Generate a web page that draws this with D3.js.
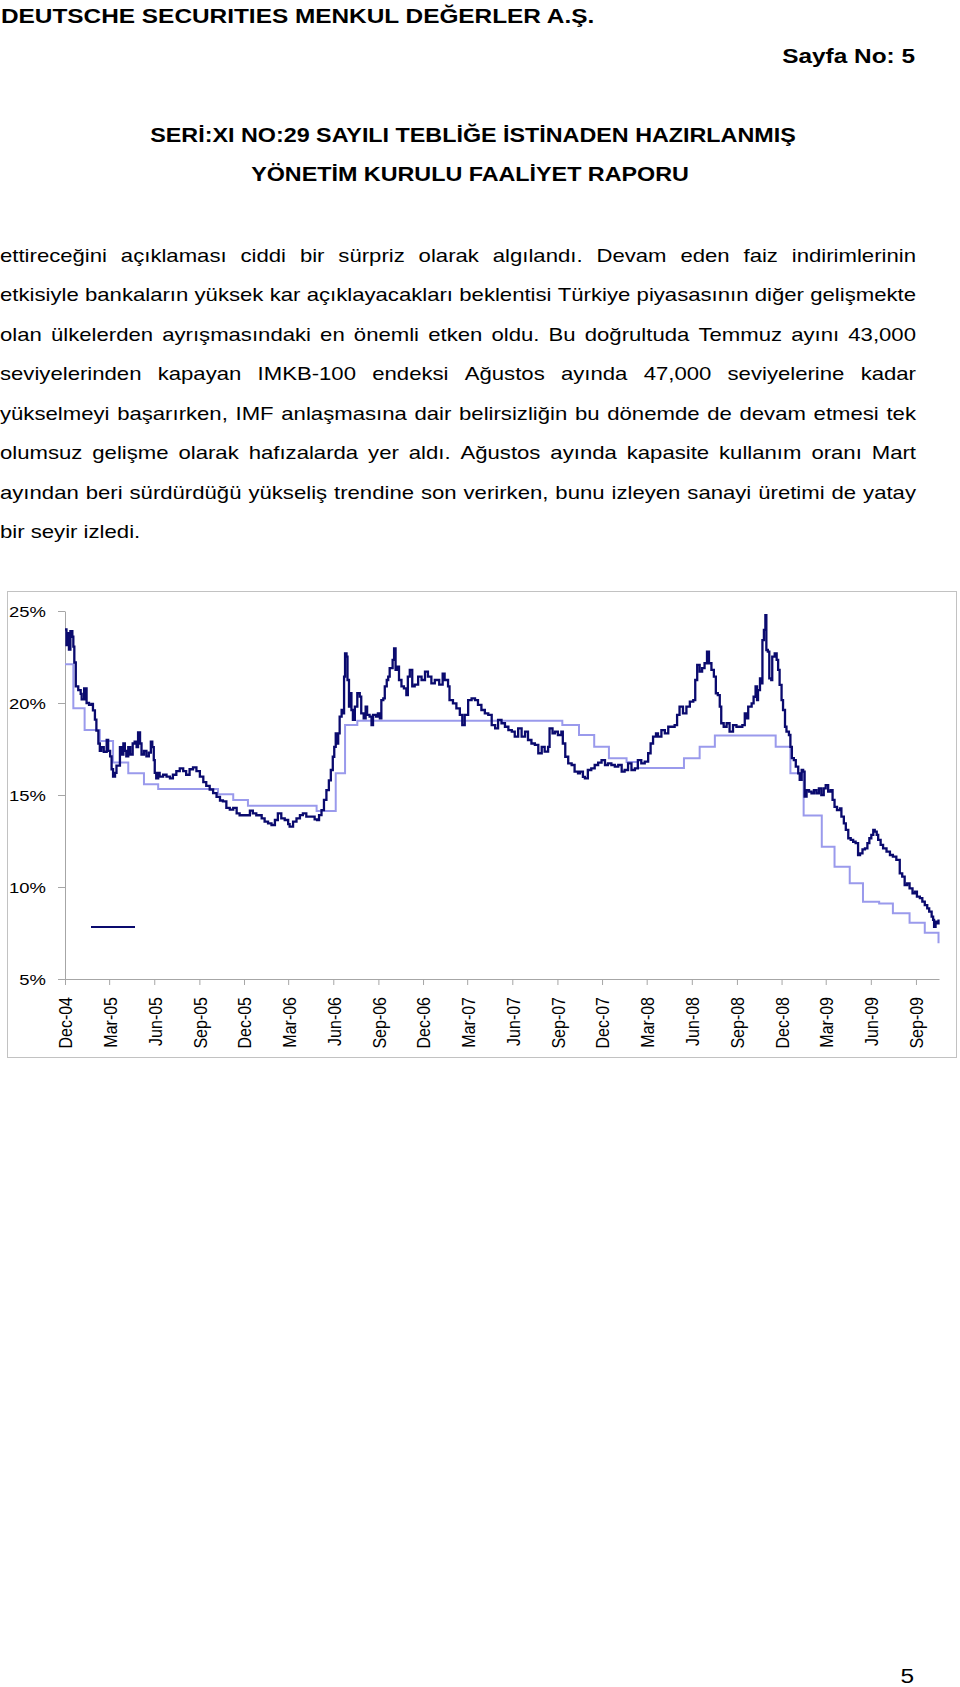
<!DOCTYPE html>
<html><head><meta charset="utf-8">
<script src="https://cdn.jsdelivr.net/npm/d3@7"></script>
<style>
html,body{margin:0;padding:0;background:#fff;}
body{width:960px;height:1687px;overflow:hidden;}
svg text{font-family:"Liberation Sans",Arial,Helvetica,sans-serif;fill:#000;}
</style></head>
<body>
<script>
// ---------- DATA ----------
const headerTitle = "DEUTSCHE SECURITIES MENKUL DEĞERLER A.Ş.";
const pageLabel = "Sayfa No: 5";
const reportTitle = ["SERİ:XI NO:29 SAYILI TEBLİĞE İSTİNADEN HAZIRLANMIŞ", "YÖNETİM KURULU FAALİYET RAPORU"];
const paragraphLines = [
  "ettireceğini açıklaması ciddi bir sürpriz olarak algılandı. Devam eden faiz indirimlerinin",
  "etkisiyle bankaların yüksek kar açıklayacakları beklentisi Türkiye piyasasının diğer gelişmekte",
  "olan ülkelerden ayrışmasındaki en önemli etken oldu. Bu doğrultuda Temmuz ayını 43,000",
  "seviyelerinden kapayan IMKB-100 endeksi Ağustos ayında 47,000 seviyelerine kadar",
  "yükselmeyi başarırken, IMF anlaşmasına dair belirsizliğin bu dönemde de devam etmesi tek",
  "olumsuz gelişme olarak hafızalarda yer aldı. Ağustos ayında kapasite kullanım oranı Mart",
  "ayından beri sürdürdüğü yükseliş trendine son verirken, bunu izleyen sanayi üretimi de yatay",
  "bir seyir izledi."
];
const pageNumber = "5";

const xTickLabels = ["Dec-04","Mar-05","Jun-05","Sep-05","Dec-05","Mar-06","Jun-06","Sep-06","Dec-06",
  "Mar-07","Jun-07","Sep-07","Dec-07","Mar-08","Jun-08","Sep-08","Dec-08","Mar-09","Jun-09","Sep-09"];
const yTickValues = [5, 10, 15, 20, 25];
const xDomain = ["2004-12-01", "2009-10-18"];
const yDomain = [5, 25];

// benchmark bond yield (%), daily series
const benchmarkYield = [
["2004-12-01",24.0],["2004-12-04",23.15],["2004-12-07",23.8],["2004-12-09",22.9],["2004-12-12",23.9],["2004-12-16",23.6],["2004-12-18",23.06],["2004-12-20",22.2],["2004-12-23",20.9],["2004-12-28",20.7],
["2005-01-02",20.5],["2005-01-04",20.2],["2005-01-09",20.8],["2005-01-10",20.2],["2005-01-12",20.8],["2005-01-14",20.0],["2005-01-19",19.9],["2005-01-24",19.95],["2005-01-27",19.6],["2005-01-31",19.1],
["2005-02-03",18.5],["2005-02-07",17.8],["2005-02-10",17.4],["2005-02-13",17.6],["2005-02-18",17.35],["2005-02-24",18.0],["2005-02-27",17.4],["2005-03-03",17.1],["2005-03-06",16.4],["2005-03-09",16.0],
["2005-03-13",16.2],["2005-03-16",16.6],["2005-03-19",16.6],["2005-03-23",17.6],["2005-03-26",17.2],["2005-03-30",17.8],["2005-04-02",17.4],["2005-04-05",17.1],["2005-04-09",17.6],["2005-04-13",17.2],
["2005-04-18",17.8],["2005-04-22",17.9],["2005-04-26",17.6],["2005-04-29",18.4],["2005-05-03",17.8],["2005-05-06",17.2],["2005-05-11",17.4],["2005-05-16",17.1],["2005-05-21",17.3],["2005-05-25",17.9],
["2005-05-28",17.6],["2005-05-31",16.9],["2005-06-02",16.2],["2005-06-05",15.9],["2005-06-09",16.2],["2005-06-12",16.0],["2005-06-19",16.1],["2005-06-26",16.0],["2005-07-03",15.9],["2005-07-09",16.1],
["2005-07-16",16.3],["2005-07-23",16.45],["2005-07-30",16.3],["2005-08-05",16.1],["2005-08-12",16.4],["2005-08-19",16.5],["2005-08-26",16.3],["2005-09-02",16.0],["2005-09-09",15.7],["2005-09-15",15.5],
["2005-09-22",15.3],["2005-09-29",15.1],["2005-10-06",14.9],["2005-10-13",14.7],["2005-10-19",14.65],["2005-10-26",14.3],["2005-11-02",14.2],["2005-11-09",14.3],["2005-11-16",14.0],["2005-11-22",13.9],
["2005-12-03",13.9],["2005-12-13",14.15],["2005-12-19",14.0],["2005-12-26",13.9],["2006-01-06",13.73],["2006-01-12",13.55],["2006-01-19",13.46],["2006-01-26",13.37],["2006-02-02",13.64],["2006-02-08",14.0],
["2006-02-15",13.73],["2006-02-22",13.64],["2006-03-01",13.42],["2006-03-04",13.28],["2006-03-11",13.55],["2006-03-18",13.73],["2006-03-25",13.91],["2006-03-31",14.0],["2006-04-07",13.82],["2006-04-14",13.82],
["2006-04-24",13.68],["2006-04-29",13.64],["2006-05-03",13.91],["2006-05-08",14.18],["2006-05-13",14.73],["2006-05-18",15.27],["2006-05-23",15.8],["2006-05-27",16.36],["2006-05-31",17.08],["2006-06-03",17.62],
["2006-06-06",18.35],["2006-06-09",17.8],["2006-06-11",18.35],["2006-06-14",19.26],["2006-06-18",19.62],["2006-06-21",19.44],["2006-06-23",21.43],["2006-06-25",22.7],["2006-06-28",22.52],["2006-06-30",21.25],
["2006-07-03",19.8],["2006-07-05",20.53],["2006-07-08",19.62],["2006-07-11",19.08],["2006-07-15",19.8],["2006-07-20",20.53],["2006-07-25",20.35],["2006-07-28",19.44],["2006-08-02",19.17],["2006-08-06",19.8],
["2006-08-09",19.35],["2006-08-14",19.26],["2006-08-18",18.8],["2006-08-21",19.35],["2006-08-27",19.26],["2006-08-31",19.44],["2006-09-04",19.17],["2006-09-07",20.16],["2006-09-11",20.25],["2006-09-14",20.9],
["2006-09-18",21.25],["2006-09-21",21.43],["2006-09-24",21.89],["2006-09-30",22.34],["2006-10-03",22.97],["2006-10-06",21.8],["2006-10-09",21.98],["2006-10-13",21.25],["2006-10-18",20.9],["2006-10-23",20.8],
["2006-10-28",20.43],["2006-10-31",21.43],["2006-11-04",21.8],["2006-11-09",20.9],["2006-11-14",21.0],["2006-11-21",21.43],["2006-11-28",21.25],["2006-12-05",21.7],["2006-12-11",21.43],["2006-12-18",21.07],
["2006-12-25",21.25],["2007-01-03",21.0],["2007-01-10",21.6],["2007-01-14",21.25],["2007-01-21",20.9],["2007-01-24",20.16],["2007-01-31",19.98],["2007-02-07",19.71],["2007-02-14",19.35],["2007-02-19",18.8],
["2007-02-24",19.35],["2007-03-03",20.16],["2007-03-10",20.25],["2007-03-17",20.16],["2007-03-23",19.9],["2007-03-30",19.62],["2007-04-06",19.44],["2007-04-13",19.35],["2007-04-20",18.8],["2007-04-27",18.62],
["2007-05-03",19.08],["2007-05-10",18.9],["2007-05-17",18.71],["2007-05-24",18.53],["2007-05-31",18.44],["2007-06-06",18.17],["2007-06-13",18.62],["2007-06-20",18.17],["2007-06-27",18.44],["2007-07-03",17.99],
["2007-07-10",17.8],["2007-07-17",17.72],["2007-07-24",17.27],["2007-07-31",17.62],["2007-08-06",17.36],["2007-08-13",17.62],["2007-08-16",18.62],["2007-08-22",18.35],["2007-08-27",18.44],["2007-09-02",18.26],
["2007-09-09",18.44],["2007-09-12",17.8],["2007-09-17",17.08],["2007-09-23",16.72],["2007-09-30",16.63],["2007-10-06",16.27],["2007-10-13",16.18],["2007-10-17",16.27],["2007-10-23",15.99],["2007-10-27",15.9],
["2007-11-02",16.36],["2007-11-09",16.45],["2007-11-16",16.63],["2007-11-23",16.76],["2007-11-30",16.9],["2007-12-07",16.63],["2007-12-13",16.72],["2007-12-20",16.63],["2007-12-27",16.54],["2008-01-03",16.63],
["2008-01-10",16.27],["2008-01-16",16.36],["2008-01-23",16.72],["2008-01-30",16.36],["2008-02-06",16.45],["2008-02-12",16.9],["2008-02-19",16.72],["2008-02-26",16.81],["2008-03-04",17.27],["2008-03-09",17.8],
["2008-03-14",18.17],["2008-03-20",18.35],["2008-03-24",18.17],["2008-03-31",18.53],["2008-04-07",18.35],["2008-04-14",18.71],["2008-04-21",18.71],["2008-04-27",18.8],["2008-05-02",19.35],["2008-05-07",19.8],
["2008-05-14",19.44],["2008-05-21",19.8],["2008-05-28",20.07],["2008-06-04",20.16],["2008-06-08",21.25],["2008-06-12",22.07],["2008-06-17",21.7],["2008-06-22",21.89],["2008-06-27",22.16],["2008-07-02",22.79],
["2008-07-06",22.16],["2008-07-11",21.8],["2008-07-16",21.43],["2008-07-20",20.53],["2008-07-24",20.43],["2008-07-28",19.8],["2008-07-31",18.9],["2008-08-05",18.71],["2008-08-11",18.9],["2008-08-17",18.44],
["2008-08-24",18.8],["2008-08-31",18.71],["2008-09-07",18.7],["2008-09-12",18.8],["2008-09-17",19.44],["2008-09-20",19.17],["2008-09-24",19.8],["2008-10-01",19.98],["2008-10-05",20.34],["2008-10-09",20.9],
["2008-10-12",20.16],["2008-10-14",20.7],["2008-10-18",21.34],["2008-10-21",21.07],["2008-10-23",23.42],["2008-10-26",23.97],["2008-10-29",24.78],["2008-10-31",22.88],["2008-11-03",22.79],["2008-11-06",21.34],
["2008-11-10",21.25],["2008-11-12",22.52],["2008-11-17",22.7],["2008-11-21",22.34],["2008-11-24",21.8],["2008-11-27",20.98],["2008-12-01",20.16],["2008-12-04",19.62],["2008-12-08",18.71],["2008-12-11",18.44],
["2008-12-16",18.26],["2008-12-19",17.62],["2008-12-22",17.0],["2008-12-26",16.9],["2008-12-30",16.54],["2009-01-04",16.18],["2009-01-07",15.82],["2009-01-11",16.36],["2009-01-14",16.27],["2009-01-17",14.91],
["2009-01-21",15.27],["2009-01-26",15.18],["2009-01-31",15.09],["2009-02-05",15.27],["2009-02-10",15.09],["2009-02-15",15.36],["2009-02-20",15.0],["2009-02-25",15.36],["2009-03-01",15.54],["2009-03-06",15.18],
["2009-03-11",15.27],["2009-03-15",14.73],["2009-03-19",14.36],["2009-03-24",14.18],["2009-03-30",14.27],["2009-04-02",13.82],["2009-04-07",13.46],["2009-04-11",13.1],["2009-04-16",12.65],["2009-04-21",12.56],
["2009-04-26",12.46],["2009-05-01",12.38],["2009-05-06",11.74],["2009-05-10",11.83],["2009-05-15",12.05],["2009-05-20",12.1],["2009-05-25",12.38],["2009-05-29",12.65],["2009-06-02",12.83],["2009-06-06",13.1],
["2009-06-09",13.01],["2009-06-13",12.83],["2009-06-16",12.56],["2009-06-21",12.29],["2009-06-26",12.1],["2009-07-03",11.92],["2009-07-10",11.74],["2009-07-16",11.65],["2009-07-23",11.47],["2009-07-30",10.74],
["2009-08-04",10.56],["2009-08-09",10.11],["2009-08-14",10.2],["2009-08-19",9.93],["2009-08-25",9.66],["2009-08-30",9.75],["2009-09-03",9.48],["2009-09-09",9.39],["2009-09-14",9.2],["2009-09-19",9.02],
["2009-09-24",8.84],["2009-09-28",8.66],["2009-10-03",8.39],["2009-10-06",8.21],["2009-10-08",7.84],["2009-10-11",8.12],["2009-10-15",8.03],["2009-10-17",8.24]
];

// policy rate (%), changes at the given dates (step series)
const policyRate = [
["2004-12-01",22.1],["2004-12-18",19.71],["2005-01-10",18.53],["2005-02-10",17.93],["2005-03-09",16.76],["2005-04-09",16.18],
["2005-05-11",15.58],["2005-06-09",15.33],["2005-10-09",15.04],["2005-11-09",14.73],["2005-12-09",14.42],["2006-04-28",14.13],
["2006-06-06",16.18],["2006-06-25",18.8],["2006-07-20",19.04],["2007-09-11",18.8],["2007-10-15",18.26],["2007-11-15",17.62],
["2007-12-15",17.0],["2008-01-20",16.79],["2008-02-12",16.47],["2008-05-16",17.0],["2008-06-17",17.62],["2008-07-18",18.24],
["2008-11-19",17.62],["2008-12-19",16.18],["2009-01-15",13.88],["2009-02-21",12.19],["2009-03-19",11.1],["2009-04-19",10.2],
["2009-05-16",9.2],["2009-06-18",9.11],["2009-07-16",8.57],["2009-08-19",8.06],["2009-09-19",7.52],["2009-10-17",6.94]
];

// ---------- DRAW ----------
const S = 1.19; // horizontal stretch of the page scan
const svg = d3.select("body").append("svg").attr("width", 960).attr("height", 1687);

function stretchedText(str, x, y, size, weight, anchor) {
  const g = svg.append("g").attr("transform", `translate(${x},${y}) scale(${S},1)`);
  return g.append("text").attr("x", 0).attr("y", 0).attr("font-size", size)
    .attr("font-weight", weight).attr("text-anchor", anchor).text(str);
}

stretchedText(headerTitle, 1, 23, 20.5, "bold", "start");
stretchedText(pageLabel, 915, 62.5, 20.5, "bold", "end");
stretchedText(reportTitle[0], 473, 142, 19.6, "bold", "middle");
stretchedText(reportTitle[1], 470, 181, 19.6, "bold", "middle");

// justified paragraph
const paraWidth = 916, paraTop = 261.5, lineGap = 39.5, paraSize = 18.6;
paragraphLines.forEach((line, i) => {
  const g = svg.append("g").attr("transform", `translate(0,${paraTop + i * lineGap}) scale(${S},1)`);
  const words = line.split(" ");
  const t = g.append("text").attr("font-size", paraSize);
  const spans = words.map(w => t.append("tspan").text(w));
  const widths = spans.map(s => s.node().getComputedTextLength());
  const total = d3.sum(widths);
  const last = i === paragraphLines.length - 1;
  const spaceW = paraSize * 0.278;
  const gap = last ? spaceW : (paraWidth / S - total) / (words.length - 1);
  let cx = 0;
  spans.forEach((s, k) => { s.attr("x", cx).attr("y", 0); cx += widths[k] + gap; });
});

stretchedText(pageNumber, 914, 1683, 20.5, "normal", "end");

// chart frame
svg.append("rect").attr("x", 7.5).attr("y", 591.5).attr("width", 949).attr("height", 466)
  .attr("fill", "none").attr("stroke", "#c2c2c2").attr("stroke-width", 1);

const parse = d3.timeParse("%Y-%m-%d");
const x = d3.scaleTime().domain(xDomain.map(parse)).range([65, 939]);
const y = d3.scaleLinear().domain(yDomain).range([979, 611]);
const tickParse = d3.timeParse("%b-%y");
const xTickDates = xTickLabels.map(tickParse);

const axisColor = "#a6a6a6";
const gy = svg.append("g").attr("transform", "translate(65,0)")
  .call(d3.axisLeft(y).tickValues(yTickValues).tickFormat(d => d + "%").tickSize(7).tickSizeOuter(0));
gy.selectAll("path,line").attr("stroke", axisColor);
gy.selectAll("text").attr("x", 0).attr("dy", "0.36em")
  .attr("transform", `translate(-19,0) scale(${S},1)`)
  .attr("font-size", 15.5).style("text-anchor", "end");
gy.attr("font-family", null).attr("font-size", null);

const gx = svg.append("g").attr("transform", "translate(0,979)")
  .call(d3.axisBottom(x).tickValues(xTickDates).tickFormat((d, i) => xTickLabels[i]).tickSize(6).tickSizeOuter(0));
gx.selectAll("path,line").attr("stroke", axisColor);
gx.selectAll("text").attr("x", 0).attr("y", 0).attr("dy", "0.36em")
  .attr("transform", `translate(0,18) scale(${S},1) rotate(-90)`)
  .attr("font-size", 16).style("text-anchor", "end");
gx.attr("font-family", null).attr("font-size", null);

const policyLine = d3.line().curve(d3.curveStepAfter)
  .x(d => x(parse(d[0]))).y(d => y(d[1]));
svg.append("path").datum(policyRate).attr("d", policyLine)
  .attr("fill", "none").attr("stroke", "#9a9aec").attr("stroke-width", 2);

const yieldLine = d3.line().curve(d3.curveStepAfter).x(d => x(parse(d[0]))).y(d => y(d[1]));
svg.append("path").datum(benchmarkYield).attr("d", yieldLine)
  .attr("fill", "none").attr("stroke", "#0a0a6e").attr("stroke-width", 2.3).attr("stroke-linejoin", "miter");

// legend key (label not visible in the original)
svg.append("line").attr("x1", 91).attr("x2", 135).attr("y1", 927).attr("y2", 927)
  .attr("stroke", "#0a0a6e").attr("stroke-width", 2);
</script>
</body></html>
